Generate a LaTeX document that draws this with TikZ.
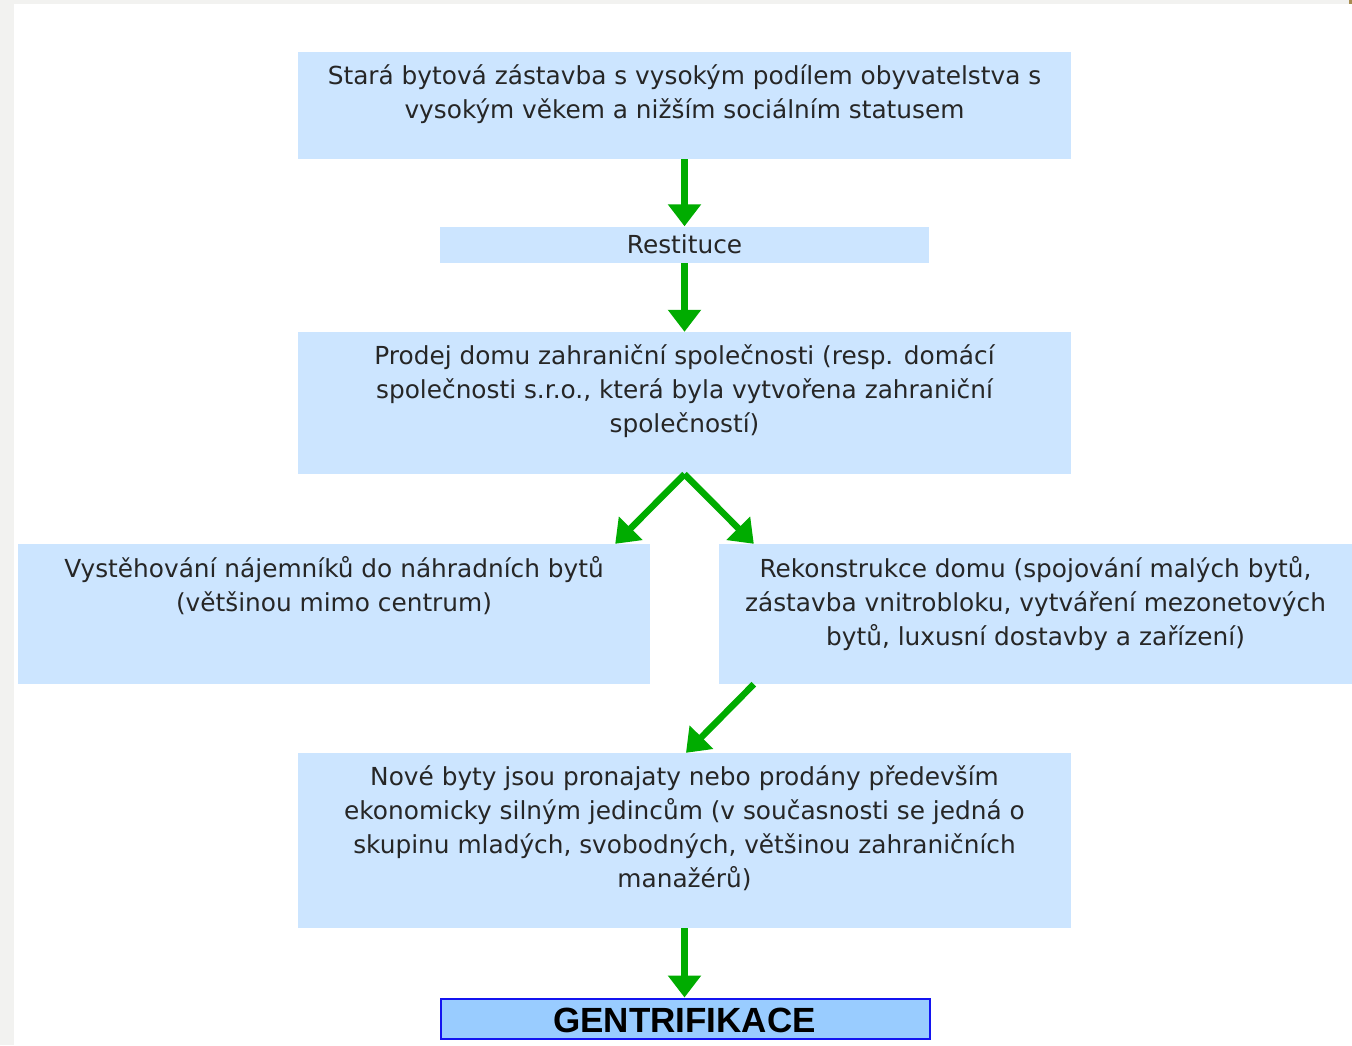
\documentclass[tikz,border=0pt]{standalone}
\usepackage{fontspec}
\setmainfont{DejaVu Sans}
\newfontfamily\boldfont{Liberation Sans}
\usetikzlibrary{arrows.meta}
\definecolor{boxfill}{RGB}{204,229,255}
\definecolor{gentfill}{RGB}{153,204,255}
\definecolor{gentdraw}{RGB}{20,20,240}
\definecolor{arrgreen}{RGB}{0,172,0}
\definecolor{pagegray}{RGB}{242,242,240}
\definecolor{goldmark}{RGB}{168,140,80}
\tikzset{
  box/.style={rectangle, fill=boxfill, draw=none, inner sep=0pt},
  txt/.style={align=center, inner sep=0pt, anchor=base, text=black!85,
    font=\fontsize{24.8pt}{34pt}\selectfont},
  flow/.style={draw=arrgreen, line width=6.5pt,
    -{Triangle[length=22pt,width=32pt]}, color=arrgreen},
}
\begin{document}
\begin{tikzpicture}[x=1pt,y=-1pt]
\useasboundingbox (0,0) rectangle (1352,1045);
\fill[pagegray] (0,0) rectangle (1352,1045);
\fill[white] (14,4) rectangle (1352,1045);
\fill[goldmark] (1349,0) rectangle (1352,4);

% boxes
\node[box, minimum width=773pt, minimum height=107pt] (b1) at (684.5,105.5) {};
\node[box, minimum width=489pt, minimum height=36.5pt] (b2) at (684.5,244.75) {};
\node[box, minimum width=773pt, minimum height=142pt] (b3) at (684.5,403) {};
\node[box, minimum width=632pt, minimum height=140pt] (b4) at (334,614) {};
\node[box, minimum width=633pt, minimum height=140pt] (b5) at (1035.5,614) {};
\node[box, minimum width=773pt, minimum height=175pt] (b6) at (684.5,840.5) {};
\node[rectangle, fill=gentfill, draw=gentdraw, line width=2pt, inner sep=0pt,
  minimum width=489pt, minimum height=40pt] (b7) at (685.5,1018.5) {};

% texts (base anchor = baseline of the last line)
\node[txt] (t1) at (684.5,118) {Stará bytová zástavba s vysokým podílem obyvatelstva s\\vysokým věkem a nižším sociálním statusem};
\node[txt] (t2) at (684.5,253) {Restituce};
\node[txt] (t3) at (684.5,432) {Prodej domu zahraniční společnosti (resp. domácí\\společnosti s.r.o., která byla vytvořena zahraniční\\společností)};
\node[txt] (t4) at (334,611) {Vystěhování nájemníků do náhradních bytů\\(většinou mimo centrum)};
\node[txt] (t5) at (1035.5,645) {Rekonstrukce domu (spojování malých bytů,\\zástavba vnitrobloku, vytváření mezonetových\\bytů, luxusní dostavby a zařízení)};
\node[txt] (t6) at (684.5,887) {Nové byty jsou pronajaty nebo prodány především\\ekonomicky silným jedincům (v současnosti se jedná o\\skupinu mladých, svobodných, většinou zahraničních\\manažérů)};
\node[anchor=base, inner sep=0pt, font=\boldfont\bfseries\fontsize{35pt}{40pt}\selectfont] (t7) at (684.5,1032) {GENTRIFIKACE};

% connectors
\draw[flow] (b1.south) -- (b2.north);
\draw[flow] (b2.south) -- (b3.north);
\draw[flow] (b3.south) -- ([xshift=-35pt]b4.north east);
\draw[flow] (b3.south) -- ([xshift=35pt]b5.north west);
\draw[flow] ([xshift=35pt]b5.south west) -- ([xshift=1.5pt]b6.north);
\draw[flow] (b6.south) -- (b7.north -| b6.south);
\end{tikzpicture}
\end{document}
